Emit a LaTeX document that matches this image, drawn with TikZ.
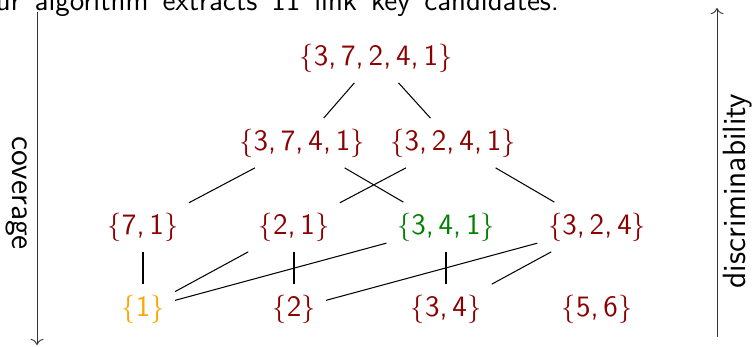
\documentclass[tikz,border=0pt]{standalone}
\usetikzlibrary{arrows.meta}
\definecolor{dred}{RGB}{139,0,0}
\definecolor{dgreen}{RGB}{0,128,0}
\definecolor{lorange}{RGB}{255,165,0}
\newcommand\kset[1]{$\{$#1$\}$}
\begin{document}
\begin{tikzpicture}[x=0.385pt,y=-0.385pt,font=\fontsize{11.4}{13.7}\selectfont\sffamily,
  setnode/.style={inner sep=3.9pt,text=dred},
  edge/.style={draw=black,line width=0.4pt},
  axis/.style={->,line width=0.35pt,draw=black!80},
  axlabel/.style={font=\fontsize{12.4}{14.8}\selectfont\sffamily}]
\useasboundingbox (0,0) rectangle (755,346);
\begin{scope}
\clip (0,0) rectangle (755,346);
\node[anchor=base west,inner sep=0pt] (cap) at (-26,10) {\spaceskip=5.4pt Our algorithm extracts 11 link key candidates.};
\end{scope}
% lattice
\node[setnode] (n1)  at (376,58)  {\kset{3,\,7,\,2,\,4,\,1}};
\node[setnode] (n21) at (302,143) {\kset{3,\,7,\,4,\,1}};
\node[setnode] (n22) at (453,143) {\kset{3,\,2,\,4,\,1}};
\node[setnode] (n31) at (143,227) {\kset{7,\,1}};
\node[setnode] (n32) at (294,227) {\kset{2,\,1}};
\node[setnode,text=dgreen] (n33) at (446,227) {\kset{3,\,4,\,1}};
\node[setnode] (n34) at (597,227) {\kset{3,\,2,\,4}};
\node[setnode,text=lorange] (n41) at (143,309) {\kset{1}};
\node[setnode] (n42) at (294,309) {\kset{2}};
\node[setnode] (n43) at (446,309) {\kset{3,\,4}};
\node[setnode] (n44) at (597,309) {\kset{5,\,6}};
\draw[edge] (n1) -- (n21);
\draw[edge] (n1) -- (n22);
\draw[edge] (n21) -- (n31);
\draw[edge] (n21) -- (n33);
\draw[edge] (n22) -- (n32);
\draw[edge] (n22) -- (n34);
\draw[edge] (n31) -- (n41);
\draw[edge] (n32) -- (n41);
\draw[edge] (n33) -- (n41);
\draw[edge] (n32) -- (n42);
\draw[edge] (n33) -- (n43);
\draw[edge] (n34) -- (n42);
\draw[edge] (n34) -- (n43);
% axes
\coordinate (lt) at (37,12);
\coordinate (lb) at (37,345);
\coordinate (rb) at (717,337);
\coordinate (rt) at (717,8);
\draw[axis] (lt) -- (lb);
\draw[axis] (rb) -- (rt);
\node[axlabel,rotate=-90] (cov) at (17,193) {coverage};
\node[axlabel,rotate=90] (dis) at (738,191) {discriminability};
\end{tikzpicture}
\end{document}
